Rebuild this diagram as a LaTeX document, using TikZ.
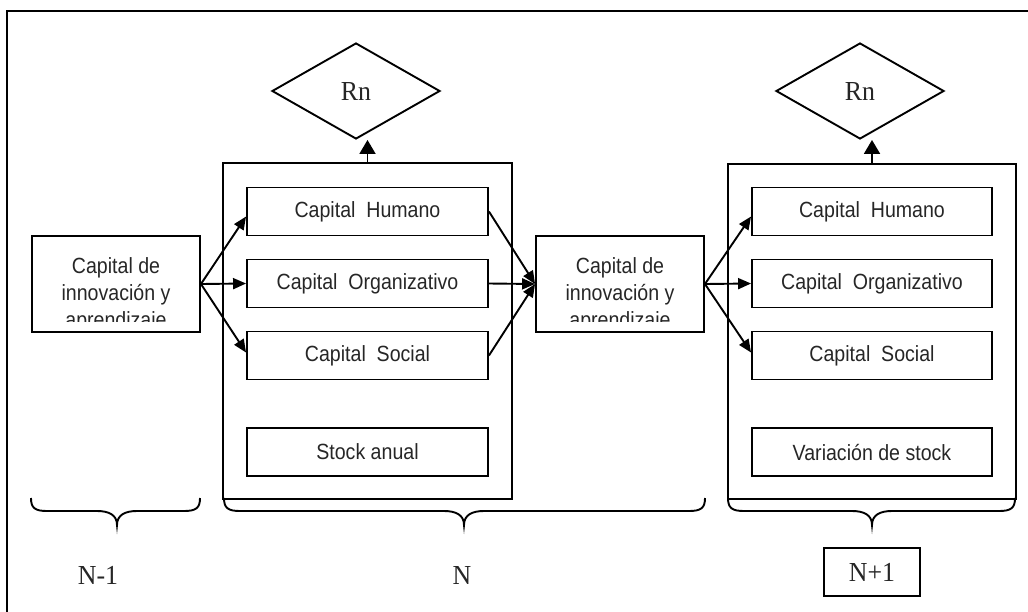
\documentclass[tikz,border=0pt]{standalone}
\usepackage{fontspec}
\setmainfont{Liberation Serif}
\newfontfamily\boxfont[FakeStretch=0.89]{Liberation Sans}
\newfontfamily\yearfont[FakeStretch=0.94]{Liberation Serif}
\usetikzlibrary{arrows.meta,shapes.geometric,calc}

% curly brace opening upwards: left end, right end, tip position
\newcommand\yearbrace[3]{%
  \draw (#1,498) .. controls (#1,508) and (#1+4,511) .. (#1+16,511)
    -- (#3-20,511) .. controls (#3-8,511) and (#3,515) .. (#3,525)
    .. controls (#3,515) and (#3+8,511) .. (#3+20,511)
    -- (#2-16,511) .. controls (#2-4,511) and (#2,508) .. (#2,498);}

\begin{document}
\begin{tikzpicture}[x=1pt,y=-1pt,line width=1.9pt,
  txt/.style={text=black!85},
  capbox/.style={draw,txt,inner sep=0pt,minimum width=241pt,minimum height=48pt,
    font=\boxfont\fontsize{22}{27}\selectfont},
  flowbox/.style={draw,inner sep=0pt,minimum width=168pt,minimum height=96pt},
  flowline/.style={txt,inner sep=0pt,anchor=base,font=\boxfont\fontsize{22}{27}\selectfont},
  period/.style={draw,inner sep=0pt},
  result/.style={draw,txt,diamond,inner sep=0pt,minimum width=168pt,minimum height=96pt,
    font=\yearfont\fontsize{27.5}{30}\selectfont},
  yearlabel/.style={txt,inner sep=0pt,font=\yearfont\fontsize{27.5}{30}\selectfont},
  arr/.style={-{Triangle[length=13pt,width=11pt]}},
  uparr/.style={-{Triangle[length=14pt,width=16pt]}}]

\useasboundingbox (0,0) rectangle (1028,611);

% outer frame
\draw[line width=2.2pt] (7,11) rectangle (1040,630);

% period blocks
\node[period,minimum width=289pt,minimum height=336pt] (perN) at (367.5,331) {};
\node[period,minimum width=288pt,minimum height=335pt] (perM) at (872,331.5) {};

% results
\node[result] (rnA) at (356,91) {Rn};
\node[result] (rnB) at (860,91) {Rn};
\draw[uparr] (perN.north) -- (perN.north |- rnA.south);
\draw[uparr] (perM.north) -- (perM.north |- rnB.south);

% capital boxes, year N
\node[capbox] (humA) at (367.5,211.5) {Capital~~Humano};
\node[capbox] (orgA) at (367.5,283.5) {Capital~~Organizativo};
\node[capbox] (socA) at (367.5,355.5) {Capital~~Social};
\node[capbox] (stkA) at (367.5,452) {Stock anual};

% capital boxes, year N+1
\node[capbox,minimum width=240pt] (humB) at (872,211.5) {Capital~~Humano};
\node[capbox,minimum width=240pt] (orgB) at (872,283.5) {Capital~~Organizativo};
\node[capbox,minimum width=240pt] (socB) at (872,355.5) {Capital~~Social};
\node[capbox,minimum width=240pt] (stkB) at (872,452) {Variación de stock};

% innovation and learning capital boxes (text cut at the lower edge)
\node[flowbox] (iniA) at (116,284) {};
\node[flowbox] (iniB) at (620,284) {};
\begin{scope}
  \clip (32,236) rectangle (200,321);
  \node[flowline] (iniA1) at (116,273) {Capital de};
  \node[flowline] (iniA2) at (116,300) {innovación y};
  \node[flowline] (iniA3) at (116,327) {aprendizaje};
\end{scope}
\begin{scope}
  \clip (536,236) rectangle (704,321);
  \node[flowline] (iniB1) at (620,273) {Capital de};
  \node[flowline] (iniB2) at (620,300) {innovación y};
  \node[flowline] (iniB3) at (620,327) {aprendizaje};
\end{scope}

% flows
\draw[arr] (iniA.east) -- ($(humA.west)+(0,5)$);
\draw[arr] (iniA.east) -- (orgA.west);
\draw[arr] (iniA.east) -- ($(socA.west)+(0,-3)$);
\draw[arr] (humA.east) -- (iniB.west);
\draw[arr] (orgA.east) -- (iniB.west);
\draw[arr] (socA.east) -- (iniB.west);
\draw[arr] (iniB.east) -- ($(humB.west)+(0,5)$);
\draw[arr] (iniB.east) -- (orgB.west);
\draw[arr] (iniB.east) -- ($(socB.west)+(0,-3)$);

% period braces
\yearbrace{31}{200}{117}
\yearbrace{224}{705}{464}
\yearbrace{728}{1015}{872}

% period labels
\node[yearlabel] (yPrev) at (98,575) {N-1};
\node[yearlabel] (yCur) at (462,575) {N};
\node[yearlabel,draw,minimum width=96pt,minimum height=48pt] (yNext) at (872,572) {N+1};
\end{tikzpicture}
\end{document}
